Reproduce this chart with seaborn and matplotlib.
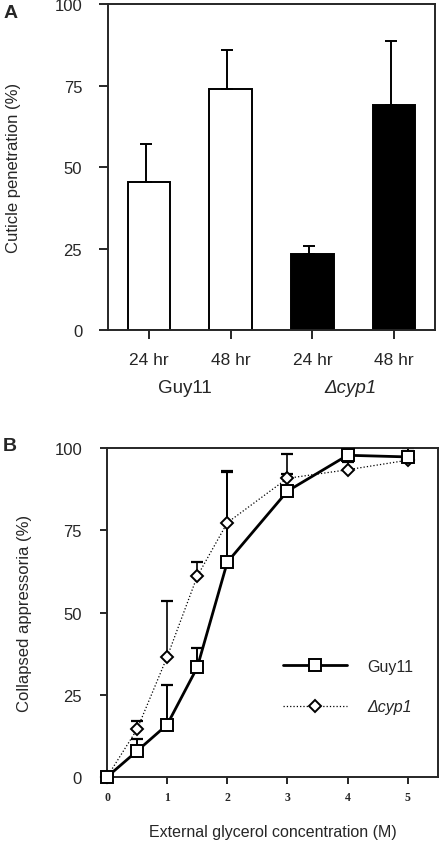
import numpy as np
import pandas as pd
import matplotlib
matplotlib.use("Agg")
import matplotlib.pyplot as plt
import seaborn as sns

# Panel A: cuticle penetration
bar_labels = ["Guy11 24", "Guy11 48", "cyp1 24", "cyp1 48"]
bar_ticks = ["24 hr", "48 hr", "24 hr", "48 hr"]
bar_values = [45.4, 74.0, 23.3, 69.0]
bar_err = [11.7, 11.8, 2.5, 19.8]
bar_colors = ["white", "white", "black", "black"]
group_names = ["Guy11", "\u0394cyp1"]

# Panel B: collapsed appressoria vs glycerol concentration
conc = [0, 0.5, 1, 1.5, 2, 3, 4, 5]
guy11 = [0, 7.9, 15.9, 33.3, 65.3, 86.9, 97.8, 97.3]
guy11_err = [0, 3.7, 12.0, 5.9, 27.6, 5.3, 0, 2.7]
cyp1 = [0, 14.5, 36.5, 61.0, 77.3, 90.8, 93.4, 96.3]
cyp1_err = [0, 2.4, 16.9, 4.3, 15.4, 7.5, 2.3, 0]

sns.set_style("ticks")
plt.rcParams['font.family'] = ['Liberation Sans', 'DejaVu Sans']

fig = plt.figure(figsize=(4.44, 8.45), dpi=100)
ax1 = fig.add_axes([0.243, 0.608, 0.737, 0.386])
ax2 = fig.add_axes([0.241, 0.0793, 0.745, 0.3893])

# ---------- panel A ----------
df_a = pd.DataFrame({"label": bar_labels, "value": bar_values})
sns.barplot(data=df_a, x="label", y="value", hue="label", palette=bar_colors,
            legend=False, width=0.52, edgecolor="black", linewidth=1.4, ax=ax1)
ax1.errorbar(np.arange(len(bar_values)) - 0.04, bar_values,
             yerr=[np.zeros(len(bar_err)), bar_err], fmt="none",
             ecolor="black", elinewidth=1.4, capsize=4, capthick=1.4)
ax1.set_xlim(-0.5, 3.5)
ax1.set_ylim(0, 100)
ax1.set_yticks([0, 25, 50, 75, 100])
ax1.set_xticks(range(4))
ax1.set_xticklabels(bar_ticks)
ax1.set_xlabel("")
ax1.set_ylabel("Cuticle penetration (%)", fontsize=12, labelpad=24)
ax1.tick_params(axis="y", labelsize=12, width=1.4, length=6.5, direction="out", pad=12)
ax1.tick_params(axis="x", labelsize=12.5, width=1.4, length=6.5, direction="out", pad=9)
for s in ax1.spines.values():
    s.set_linewidth(1.4)
    s.set_visible(True)
ax1.text(0.235, -0.19, group_names[0], transform=ax1.transAxes, fontsize=13.5,
         ha="center", va="baseline")
ax1.text(0.74, -0.19, group_names[1], transform=ax1.transAxes, fontsize=13.5,
         ha="center", va="baseline", fontstyle="italic")
fig.text(0.007, 0.984, "A", fontsize=14, fontweight="bold", va="center")

# ---------- panel B ----------
df_b = pd.DataFrame({"conc": conc * 2,
                     "value": guy11 + cyp1,
                     "strain": ["Guy11"] * len(conc) + ["cyp1"] * len(conc)})
ax2.errorbar(conc, guy11, yerr=[np.zeros(len(conc)), guy11_err], fmt="none",
             ecolor="black", elinewidth=1.4, capsize=4, capthick=1.6, zorder=2)
ax2.errorbar(conc, cyp1, yerr=[np.zeros(len(conc)), cyp1_err], fmt="none",
             ecolor="black", elinewidth=1.2, capsize=4, capthick=1.6, zorder=2)
sns.lineplot(data=df_b[df_b.strain == "cyp1"], x="conc", y="value", ax=ax2,
             color="black", linestyle=":", linewidth=0.9, marker="D",
             markersize=6.5, markerfacecolor="white", markeredgecolor="black",
             markeredgewidth=1.4, label=group_names[1], zorder=3, clip_on=False)
sns.lineplot(data=df_b[df_b.strain == "Guy11"], x="conc", y="value", ax=ax2,
             color="black", linestyle="-", linewidth=2.0, marker="s",
             markersize=9, markerfacecolor="white", markeredgecolor="black",
             markeredgewidth=1.4, label=group_names[0], zorder=4, clip_on=False)
ax2.set_xlim(0, 5.5)
ax2.set_ylim(0, 100)
ax2.set_yticks([0, 25, 50, 75, 100])
ax2.set_xticks(range(6))
ax2.set_xticklabels([str(i) for i in range(6)], fontfamily="Liberation Serif",
                    fontweight="bold", fontsize=8.5)
ax2.set_xlabel("External glycerol concentration (M)", fontsize=11.5, labelpad=15)
ax2.set_ylabel("Collapsed appressoria (%)", fontsize=12, labelpad=16)
ax2.tick_params(axis="y", labelsize=12, width=1.4, length=5, direction="out", pad=13)
ax2.tick_params(axis="x", width=1.4, length=5, direction="out", pad=5)
for s in ax2.spines.values():
    s.set_linewidth(1.4)
    s.set_visible(True)
handles, labels = ax2.get_legend_handles_labels()
leg = ax2.legend(handles[::-1], labels[::-1], loc="center left",
                 bbox_to_anchor=(0.49, 0.275), frameon=False, fontsize=11.5,
                 handlelength=4.0, handletextpad=1.25, labelspacing=1.6)
leg.get_texts()[1].set_fontstyle("italic")
fig.text(0.007, 0.472, "B", fontsize=14, fontweight="bold", va="center")

fig.savefig("out.png", dpi=100)
